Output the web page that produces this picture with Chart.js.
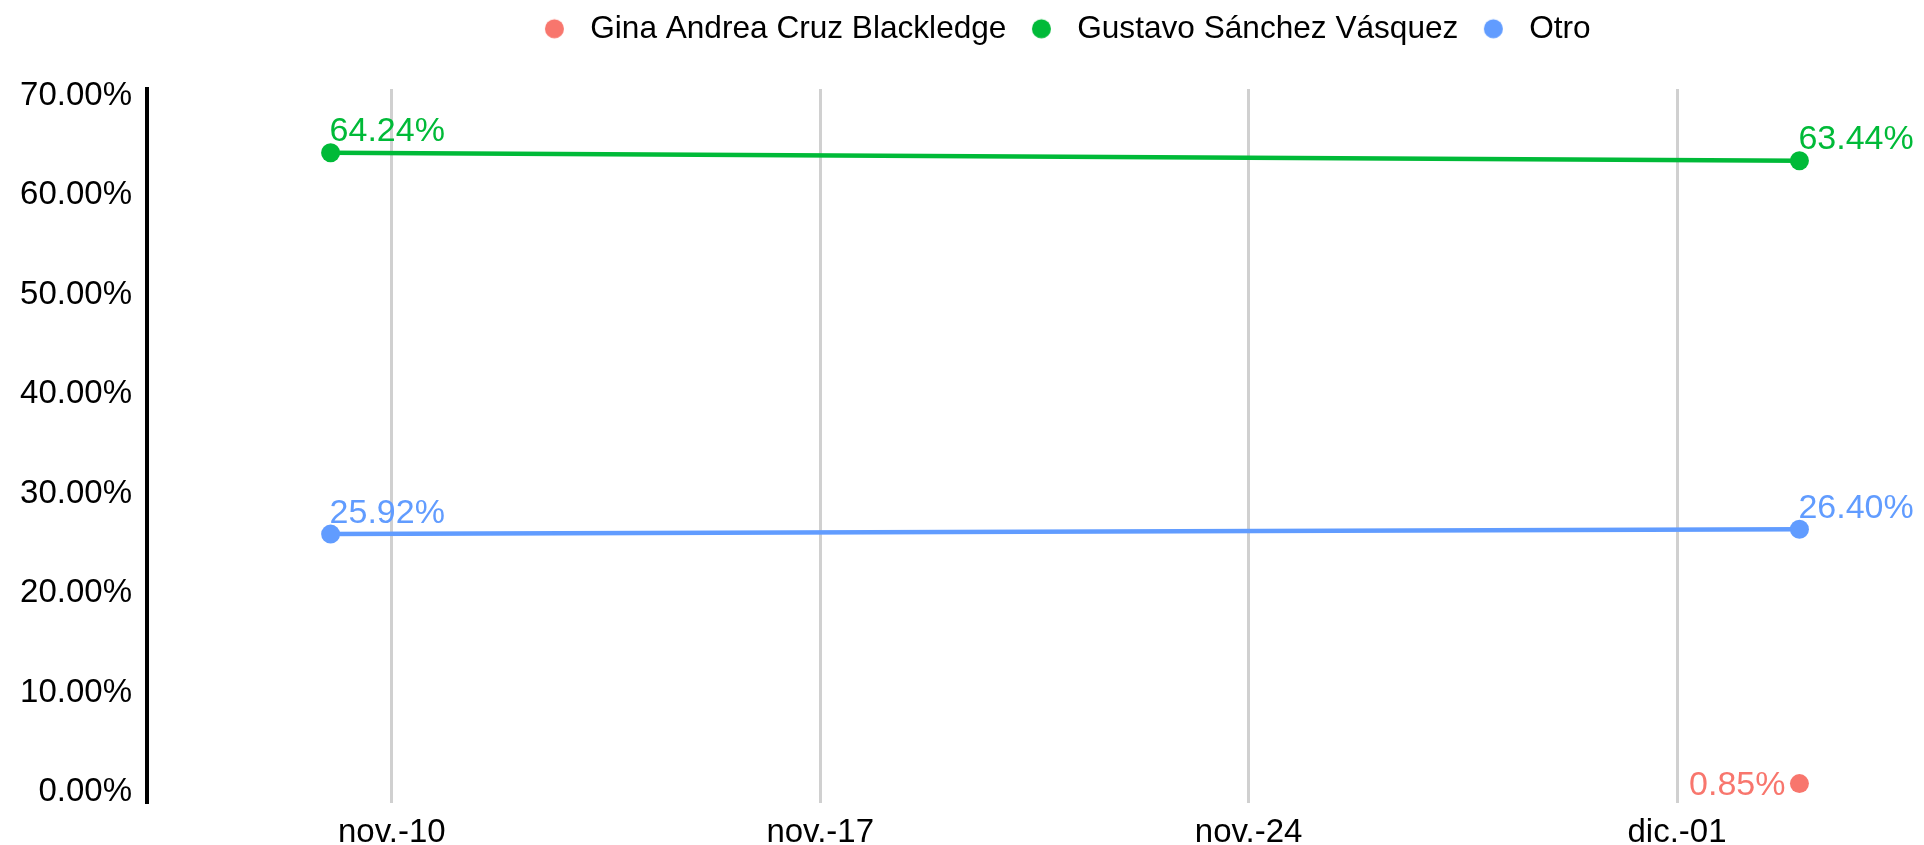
<!DOCTYPE html>
<html>
<head>
<meta charset="utf-8">
<script src="https://cdn.jsdelivr.net/npm/chart.js@4.4.0/dist/chart.umd.min.js"></script>
<style>
html,body{margin:0;padding:0;background:#fff;overflow:hidden}
#wrap{width:1924px;height:845px;position:relative}
</style>
</head>
<body>
<div id="wrap"><canvas id="c"></canvas></div>
<script>
const seriesNames = ['Gina Andrea Cruz Blackledge', 'Gustavo Sánchez Vásquez', 'Otro'];
const seriesColors = ['#F8766D', '#00BA38', '#619CFF'];
// x = day counted from nov.-01 (dic.-03 -> 33)
const ginaDays = [33];
const ginaValues = [0.85];
const gustavoDays = [9, 33];
const gustavoValues = [64.24, 63.44];
const otroDays = [9, 33];
const otroValues = [25.92, 26.40];
const xTickValues = [10, 17, 24, 31];
const xTickLabels = ['nov.-10', 'nov.-17', 'nov.-24', 'dic.-01'];
const yTickValues = [0, 10, 20, 30, 40, 50, 60, 70];

const FONT = "'Liberation Sans', Arial, Helvetica, sans-serif";
const pts = (days, vals) => days.map((d, i) => ({x: d, y: vals[i]}));

function legendDot(color){
  const c = document.createElement('canvas'); c.width = 30; c.height = 22;
  const g = c.getContext('2d');
  g.fillStyle = color; g.beginPath(); g.arc(17.5, 11, 9.5, 0, Math.PI * 2); g.fill();
  return c;
}

// value labels next to each point
const pointLabels = {
  id: 'pointLabels',
  afterDatasetsDraw(chart){
    const ctx = chart.ctx;
    ctx.save();
    ctx.font = '34px ' + FONT;
    ctx.textBaseline = 'alphabetic';
    chart.data.datasets.forEach((ds, i) => {
      chart.getDatasetMeta(i).data.forEach((el, j) => {
        const txt = ds.data[j].y.toFixed(2) + '%';
        ctx.fillStyle = ds.borderColor;
        if (ds.labelSide === 'left') { ctx.textAlign = 'right'; ctx.fillText(txt, el.x - 14, el.y + 11.5); }
        else { ctx.textAlign = 'left'; ctx.fillText(txt, el.x - 1, el.y - 11.5); }
      });
    });
    ctx.restore();
  }
};

// legend sits a bit right of centre and takes the space above the plot
const legendBox = {
  id: 'legendBox',
  afterInit(chart){
    const lg = chart.legend, fit = lg.fit.bind(lg);
    lg.fit = function(){ fit(); this.height = 89; };
  },
  afterLayout(chart){
    const lg = chart.legend;
    lg.left += 99; lg.right += 99; lg.top += 3; lg.bottom += 3;
  }
};

const mk = (i, days, vals, side) => ({
  label: seriesNames[i], data: pts(days, vals),
  borderColor: seriesColors[i], backgroundColor: seriesColors[i],
  pointBackgroundColor: seriesColors[i], borderWidth: 4.5,
  pointRadius: 9.5, pointHoverRadius: 9.5, pointBorderWidth: 0, tension: 0,
  labelSide: side
});

new Chart(document.getElementById('c').getContext('2d'), {
  type: 'line',
  data: { datasets: [
    mk(0, ginaDays, ginaValues, 'left'),
    mk(1, gustavoDays, gustavoValues, 'above'),
    mk(2, otroDays, otroValues, 'above')
  ]},
  options: {
    responsive: true, maintainAspectRatio: false, animation: false,
    layout: { padding: { left: 0, right: 2, top: 0, bottom: 0 } },
    plugins: {
      tooltip: { enabled: false },
      legend: { position: 'top', labels: {
        font: { family: FONT, size: 31.6 }, color: '#000', usePointStyle: true, pointStyleWidth: 45, padding: 10,
        generateLabels(chart){
          const items = Chart.defaults.plugins.legend.labels.generateLabels(chart);
          items.forEach((it, i) => { it.pointStyle = legendDot(seriesColors[i]); it.lineWidth = 0; });
          return items;
        }
      }}
    },
    scales: {
      x: {
        type: 'linear', min: 6, max: 34.88,
        afterBuildTicks: s => { s.ticks = xTickValues.map(v => ({ value: v })); },
        afterFit: s => { s.height = 42; },
        grid: { color: '#d0d0d0', lineWidth: 3, drawTicks: false },
        border: { display: false },
        ticks: { font: { family: FONT, size: 33 }, color: '#000', padding: 10, maxRotation: 0,
          callback: v => xTickLabels[xTickValues.indexOf(v)] }
      },
      y: {
        min: -1.1, max: 70.65,
        afterBuildTicks: s => { s.ticks = yTickValues.map(v => ({ value: v })); },
        afterFit: s => { s.width = 147; },
        grid: { display: false, drawTicks: false },
        border: { display: true, color: '#000', width: 4 },
        ticks: { font: { family: FONT, size: 33 }, color: '#000', padding: 15,
          callback: v => v.toFixed(2) + '%' }
      }
    }
  },
  plugins: [pointLabels, legendBox]
});
</script>
</body>
</html>
